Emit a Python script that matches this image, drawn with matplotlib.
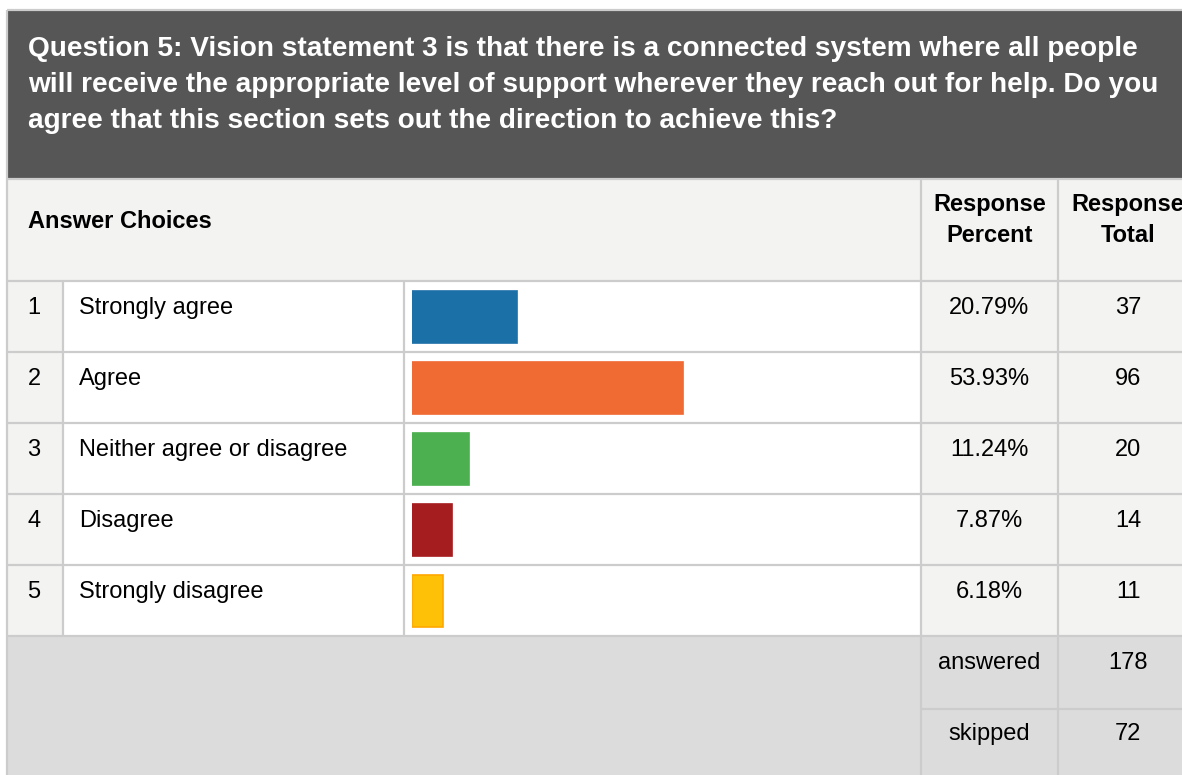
import matplotlib
matplotlib.use("Agg")
import matplotlib.pyplot as plt
from matplotlib.patches import Rectangle

plt.rcParams["font.family"] = ["Liberation Sans", "DejaVu Sans"]

# data
title_lines = [
    "Question 5: Vision statement 3 is that there is a connected system where all people",
    "will receive the appropriate level of support wherever they reach out for help. Do you",
    "agree that this section sets out the direction to achieve this?",
]
choices = ["Strongly agree", "Agree", "Neither agree or disagree", "Disagree", "Strongly disagree"]
percents = [20.79, 53.93, 11.24, 7.87, 6.18]
totals = [37, 96, 20, 14, 11]
answered = 178
skipped = 72
bar_colors = ["#1c70a8", "#f06a33", "#4cb050", "#a51d1f", "#ffc107"]
bar_edges = ["#1c70a8", "#f06a33", "#4cb050", "#a51d1f", "#ffa800"]

W, H = 1182, 775
GRID = "#cccccc"
LIGHT = "#f3f3f2"
DARK = "#555655"
FOOT = "#dcdcdc"

fig = plt.figure(figsize=(W / 100, H / 100), dpi=100)
ax = fig.add_axes([0, 0, 1, 1])
ax.set_xlim(0, W)
ax.set_ylim(H, 0)
ax.axis("off")

def rect(x0, y0, x1, y1, fc):
    ax.add_patch(Rectangle((x0, y0), x1 - x0, y1 - y0, facecolor=fc, edgecolor="none"))

def hline(y, x0, x1):
    ax.plot([x0, x1], [y, y], color=GRID, lw=1.6, solid_capstyle="butt")

def vline(x, y0, y1):
    ax.plot([x, x], [y0, y1], color=GRID, lw=1.6, solid_capstyle="butt")

left, top = 7, 10
c_num, c_lab, c_bar, c_pct = 63, 404, 921, 1058
x_pct, x_tot = (c_bar + c_pct) / 2, 1128
row_top, row_h = 281, 71
n = len(choices)
rows_end = row_top + row_h * n
FS = 17

# header block
rect(left, top, W, 178, DARK)
for k, line in enumerate(title_lines):
    ax.text(28, 49 + 36 * k, line, color="white", fontsize=20.2, fontweight="bold",
            va="center", ha="left")

# column header row
rect(left, 179, W, row_top, LIGHT)
ax.text(28, 221, "Answer Choices", fontsize=FS, fontweight="bold", va="center")
for x, (a, b) in [(x_pct, ("Response", "Percent")), (x_tot, ("Response", "Total"))]:
    ax.text(x, 205, a, fontsize=FS, fontweight="bold", va="center", ha="center")
    ax.text(x, 235, b, fontsize=FS, fontweight="bold", va="center", ha="center")

# body rows
rect(left, row_top, c_num, rows_end, LIGHT)
rect(c_num, row_top, c_bar, rows_end, "white")
rect(c_bar, row_top, W, rows_end, LIGHT)
for i, (lab, p, t) in enumerate(zip(choices, percents, totals)):
    ty = row_top + row_h * i + 27
    ax.text(34, ty, str(i + 1), fontsize=FS, ha="center", va="center")
    ax.text(79, ty, lab, fontsize=FS, ha="left", va="center")
    ax.text(x_pct, ty, f"{p:.2f}%", fontsize=FS, ha="center", va="center")
    ax.text(x_tot, ty, str(t), fontsize=FS, ha="center", va="center")

# footer
rect(left, rows_end, W, H, FOOT)
ax.text(x_pct, 663, "answered", fontsize=FS, ha="center", va="center")
ax.text(x_tot, 663, str(answered), fontsize=FS, ha="center", va="center")
ax.text(x_pct, 734, "skipped", fontsize=FS, ha="center", va="center")
ax.text(x_tot, 734, str(skipped), fontsize=FS, ha="center", va="center")

# grid lines
hline(top, left, W)
vline(left, top, H)
hline(178.5, left, W)
for i in range(n + 1):
    hline(row_top + row_h * i, left, W)
hline(709, c_bar, W)
vline(c_num, row_top, rows_end)
vline(c_lab, row_top, rows_end)
vline(c_bar, 179, H)
vline(c_pct, 179, H)

# bars, drawn through their own axes: 0-100% spans the bar cell minus padding
bx0, bx1 = 412, 915
bax = fig.add_axes([bx0 / W, 1 - rows_end / H, (bx1 - bx0) / W, (rows_end - row_top) / H])
bax.set_xlim(0, 100)
bax.set_ylim(n - 0.5, -0.5)
bax.barh(range(n), percents, height=52 / row_h, color=bar_colors,
         edgecolor=bar_edges, linewidth=1.2)
bax.axis("off")

fig.savefig("out.png", dpi=100)
